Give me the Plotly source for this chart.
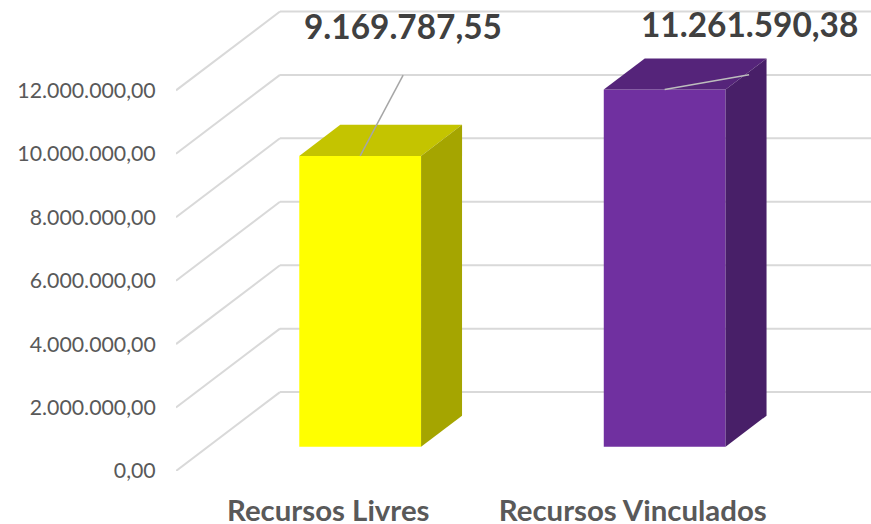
import plotly.graph_objects as go

categories = ["Recursos Livres", "Recursos Vinculados"]
values = [9169787.55, 11261590.38]
value_labels = ["9.169.787,55", "11.261.590,38"]
tick_values = [0, 2000000, 4000000, 6000000, 8000000, 10000000, 12000000]
tick_labels = ["0,00", "2.000.000,00", "4.000.000,00", "6.000.000,00",
               "8.000.000,00", "10.000.000,00", "12.000.000,00"]

# oblique projection of the 3D chart
DX, DY = 0.3415, 2488000      # full floor depth in axis units
D0, D1 = 0.307, 0.701         # bar front / back depth fractions
BAR_W = 0.4
W, H = 871, 524
L, B = 176, 53
XMAX = (W - L) / 304.5
YMAX = 471 / 31.72 * 1e6

GRID = "#D9D9D9"
FRONT = ["#FFFF00", "#7030A0"]
TOP = ["#C4C400", "#55247A"]
SIDE = ["#A5A500", "#481F68"]
LEADER = ["#A6A6A6", "#BDBDBD"]
LABEL_ANCHOR_X = [0.745, 1.885]
LABEL_ANCHOR_Y = [14030000, 14090000]
LEADER_END_X = [0.746, 1.882]
LEADER_END_Y = [12480000, 12490000]

fig = go.Figure()
centers = [i + 0.5 for i in range(len(categories))]

fig.add_trace(go.Bar(
    x=[c + D0 * DX for c in centers],
    y=values,
    base=[D0 * DY] * len(values),
    width=BAR_W,
    marker=dict(color=FRONT, line=dict(width=0)),
    hoverinfo="skip",
    showlegend=False,
))

for i, (c, v) in enumerate(zip(centers, values)):
    xl = c - BAR_W / 2 + D0 * DX
    xr = c + BAR_W / 2 + D0 * DX
    b0, t0 = D0 * DY, v + D0 * DY
    sx, sy = (D1 - D0) * DX, (D1 - D0) * DY
    fig.add_trace(go.Scatter(
        x=[xl, xr, xr + sx, xl + sx, xl], y=[t0, t0, t0 + sy, t0 + sy, t0],
        mode="lines", fill="toself", fillcolor=TOP[i], line=dict(width=0),
        hoverinfo="skip", showlegend=False))
    fig.add_trace(go.Scatter(
        x=[xr, xr + sx, xr + sx, xr, xr], y=[b0, b0 + sy, t0 + sy, t0, b0],
        mode="lines", fill="toself", fillcolor=SIDE[i], line=dict(width=0),
        hoverinfo="skip", showlegend=False))
    fig.add_trace(go.Scatter(
        x=[c + D0 * DX, LEADER_END_X[i]], y=[t0, LEADER_END_Y[i]],
        mode="lines", line=dict(color=LEADER[i], width=1.5),
        hoverinfo="skip", showlegend=False))

shapes = []
for t in tick_values:
    for x0, y0, x1, y1 in [(0, t, DX, t + DY), (DX, t + DY, XMAX, t + DY)]:
        shapes.append(dict(type="line", xref="x", yref="y", x0=x0, y0=y0, x1=x1, y1=y1,
                           layer="below", line=dict(color=GRID, width=2)))

annotations = [
    dict(x=LABEL_ANCHOR_X[i], y=LABEL_ANCHOR_Y[i], xref="x", yref="y", text=value_labels[i],
         showarrow=False, xanchor="center", yanchor="middle",
         font=dict(family="Lato", size=33.4, color="#404040", weight="bold"))
    for i in range(2)
]

fig.update_layout(
    width=W, height=H, margin=dict(l=L, r=0, t=0, b=B, autoexpand=False),
    paper_bgcolor="white", plot_bgcolor="white",
    shapes=shapes, annotations=annotations, showlegend=False, barmode="overlay",
    xaxis=dict(range=[0, XMAX], tickmode="array", tickvals=centers, ticktext=categories,
               showgrid=False, zeroline=False, showline=False, ticks="outside", ticklen=14,
               tickcolor="rgba(0,0,0,0)",
               tickfont=dict(family="Lato", size=29.4, color="#595959", weight="bold")),
    yaxis=dict(range=[0, YMAX], tickmode="array", tickvals=tick_values, ticktext=tick_labels,
               showgrid=False, zeroline=False, showline=False, ticks="outside", ticklen=15,
               tickcolor="rgba(0,0,0,0)",
               tickfont=dict(family="Lato", size=21.3, color="#595959")),
)

fig.write_html("out.html", post_script="document.body.style.margin='0';",
               config=dict(displayModeBar=False))
